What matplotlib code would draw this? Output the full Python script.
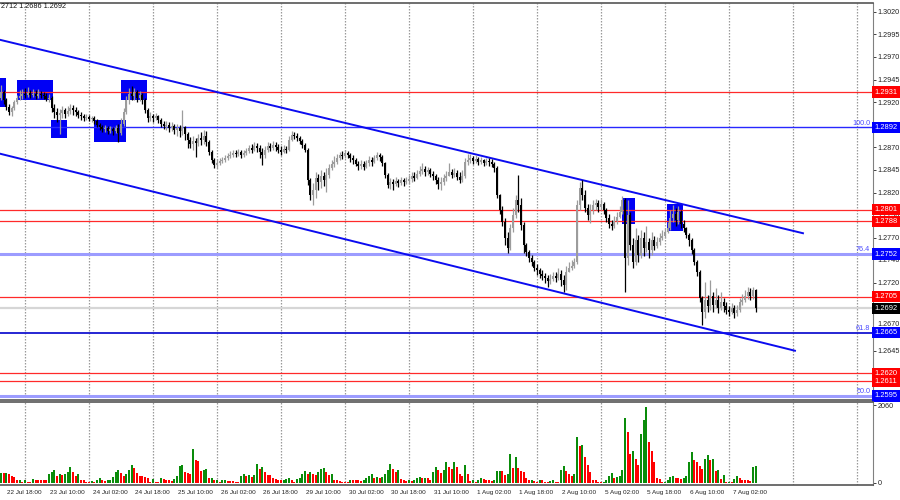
import numpy as np
import matplotlib
matplotlib.use("Agg")
import matplotlib.pyplot as plt
import matplotlib.transforms as mtransforms
from matplotlib.patches import Rectangle

plt.rcParams['font.family'] = ['Liberation Sans', 'DejaVu Sans']

# H1 bars, prices in points (1/10000), bar 0 = 22 Jul 16:00
first_open = 12925
close = [
    12931, 12922, 12915, 12909, 12914, 12920, 12925, 12927, 12929, 12928,
    12930, 12928, 12929, 12927, 12929, 12928, 12927, 12923, 12925, 12914,
    12909, 12906, 12908, 12911, 12907, 12910, 12914, 12911, 12909, 12906,
    12905, 12902, 12904, 12901, 12902, 12899, 12895, 12892, 12890, 12891,
    12888, 12890, 12888, 12891, 12886, 12896, 12909, 12922, 12929, 12927,
    12931, 12925, 12928, 12922, 12911, 12902, 12905, 12902, 12905, 12900,
    12896, 12894, 12895, 12891, 12894, 12889, 12891, 12888, 12892, 12885,
    12878, 12874, 12877, 12875, 12880, 12878, 12883, 12876, 12865, 12856,
    12850, 12853, 12855, 12856, 12858, 12860, 12862, 12864, 12863, 12865,
    12862, 12864, 12866, 12869, 12867, 12871, 12869, 12865, 12862, 12867,
    12871, 12869, 12873, 12870, 12867, 12865, 12868, 12867, 12878, 12884,
    12883, 12880, 12877, 12873, 12867, 12834, 12817, 12823, 12836, 12832,
    12838, 12834, 12839, 12847, 12852, 12854, 12858, 12862, 12860, 12864,
    12862, 12858, 12856, 12852, 12849, 12852, 12848, 12853, 12856, 12854,
    12858, 12862, 12859, 12853, 12839, 12828, 12832, 12829, 12833, 12831,
    12834, 12832, 12833, 12835, 12838, 12836, 12840, 12844, 12846, 12843,
    12845, 12840, 12838, 12834, 12829, 12832, 12836, 12838, 12843, 12839,
    12842, 12837, 12834, 12838, 12854, 12856, 12858, 12855, 12857, 12854,
    12856, 12853, 12855, 12854, 12852, 12847, 12817, 12801, 12787, 12770,
    12759, 12781, 12795, 12812, 12806, 12784, 12762, 12754, 12748, 12743,
    12737, 12734, 12730, 12728, 12725, 12722, 12724, 12728, 12725, 12730,
    12723, 12718, 12732, 12737, 12739, 12743, 12806, 12825, 12817, 12803,
    12795, 12801, 12806, 12808, 12804, 12807, 12801, 12792, 12785, 12783,
    12788, 12793, 12798, 12812, 12748, 12795, 12762, 12743, 12767, 12751,
    12770, 12759, 12765, 12756, 12767, 12761, 12765, 12770, 12772, 12776,
    12781, 12792, 12796, 12790, 12798, 12785, 12781, 12773, 12767, 12756,
    12743, 12732, 12703, 12688, 12701, 12694, 12706, 12696, 12701, 12692,
    12699, 12694, 12690, 12688, 12692, 12687, 12690, 12699, 12701, 12706,
    12710, 12706, 12712, 12692]
high = [
    12939, 12933, 12925, 12918, 12916, 12922, 12928, 12933, 12935, 12936,
    12937, 12933, 12935, 12933, 12935, 12932, 12931, 12930, 12929, 12927,
    12918, 12914, 12912, 12916, 12914, 12916, 12918, 12917, 12915, 12911,
    12909, 12907, 12907, 12906, 12905, 12905, 12901, 12897, 12895, 12895,
    12894, 12894, 12892, 12895, 12896, 12902, 12914, 12927, 12936, 12938,
    12936, 12933, 12932, 12930, 12925, 12914, 12909, 12907, 12908, 12906,
    12902, 12899, 12899, 12898, 12898, 12896, 12896, 12895, 12911, 12894,
    12887, 12881, 12883, 12880, 12885, 12887, 12889, 12888, 12878, 12867,
    12858, 12857, 12858, 12859, 12862, 12864, 12866, 12867, 12867, 12868,
    12867, 12867, 12869, 12873, 12874, 12876, 12875, 12873, 12869, 12871,
    12876, 12875, 12877, 12876, 12874, 12871, 12873, 12871, 12883, 12888,
    12887, 12886, 12883, 12879, 12875, 12869, 12836, 12831, 12843, 12840,
    12845, 12843, 12847, 12852, 12856, 12860, 12863, 12865, 12866, 12867,
    12866, 12864, 12862, 12858, 12855, 12856, 12855, 12856, 12860, 12859,
    12862, 12865, 12864, 12862, 12854, 12842, 12836, 12835, 12837, 12835,
    12837, 12836, 12837, 12839, 12843, 12843, 12845, 12849, 12853, 12849,
    12848, 12847, 12844, 12840, 12837, 12837, 12840, 12844, 12853, 12846,
    12847, 12845, 12843, 12845, 12858, 12863, 12863, 12860, 12862, 12859,
    12859, 12857, 12858, 12858, 12857, 12854, 12849, 12818, 12805, 12792,
    12776, 12785, 12803, 12817, 12839, 12814, 12787, 12764, 12756, 12751,
    12745, 12741, 12737, 12734, 12731, 12729, 12730, 12732, 12732, 12737,
    12734, 12729, 12739, 12743, 12745, 12748, 12812, 12832, 12834, 12823,
    12807, 12807, 12812, 12813, 12812, 12813, 12810, 12803, 12796, 12790,
    12794, 12798, 12805, 12816, 12814, 12812, 12798, 12770, 12781, 12773,
    12779, 12776, 12783, 12770, 12776, 12772, 12771, 12775, 12779, 12781,
    12787, 12801, 12806, 12803, 12805, 12801, 12790, 12782, 12775, 12770,
    12759, 12745, 12734, 12706, 12721, 12707, 12723, 12710, 12714, 12707,
    12710, 12703, 12699, 12694, 12698, 12696, 12696, 12703, 12708, 12712,
    12715, 12714, 12716, 12713]
low = [
    12922, 12918, 12911, 12906, 12905, 12911, 12918, 12922, 12923, 12925,
    12926, 12925, 12926, 12923, 12925, 12925, 12923, 12921, 12920, 12909,
    12902, 12898, 12885, 12902, 12902, 12905, 12907, 12906, 12905, 12902,
    12900, 12899, 12900, 12899, 12898, 12896, 12892, 12889, 12887, 12887,
    12885, 12886, 12884, 12886, 12876, 12884, 12894, 12907, 12918, 12922,
    12922, 12920, 12921, 12918, 12908, 12898, 12899, 12898, 12900, 12897,
    12892, 12890, 12889, 12887, 12888, 12885, 12883, 12881, 12884, 12878,
    12869, 12869, 12867, 12859, 12871, 12873, 12874, 12871, 12862, 12853,
    12847, 12847, 12850, 12853, 12854, 12856, 12858, 12859, 12859, 12860,
    12858, 12859, 12862, 12864, 12864, 12866, 12865, 12858, 12850, 12858,
    12865, 12866, 12867, 12866, 12864, 12862, 12864, 12864, 12866, 12877,
    12879, 12877, 12874, 12869, 12865, 12828, 12812, 12806, 12814, 12823,
    12825, 12827, 12821, 12836, 12845, 12848, 12852, 12856, 12857, 12858,
    12858, 12854, 12852, 12849, 12845, 12846, 12845, 12847, 12849, 12849,
    12853, 12856, 12855, 12849, 12836, 12825, 12824, 12823, 12827, 12826,
    12828, 12827, 12829, 12829, 12832, 12833, 12835, 12838, 12840, 12838,
    12839, 12837, 12834, 12829, 12824, 12823, 12828, 12833, 12838, 12836,
    12837, 12834, 12831, 12832, 12836, 12850, 12853, 12852, 12853, 12850,
    12852, 12849, 12850, 12849, 12848, 12843, 12814, 12796, 12783, 12762,
    12753, 12756, 12776, 12792, 12798, 12779, 12753, 12750, 12743, 12739,
    12733, 12729, 12725, 12723, 12720, 12715, 12719, 12722, 12721, 12723,
    12717, 12710, 12712, 12732, 12734, 12737, 12741, 12801, 12812, 12798,
    12790, 12786, 12796, 12801, 12798, 12801, 12796, 12787, 12781, 12779,
    12781, 12785, 12792, 12796, 12710, 12740, 12756, 12737, 12740, 12743,
    12748, 12750, 12754, 12748, 12751, 12756, 12759, 12762, 12767, 12770,
    12775, 12779, 12787, 12783, 12785, 12781, 12776, 12770, 12761, 12752,
    12740, 12728, 12699, 12673, 12681, 12688, 12690, 12688, 12692, 12687,
    12690, 12688, 12686, 12683, 12686, 12681, 12683, 12688, 12696, 12699,
    12702, 12701, 12702, 12688]
volume = [
    252, 243, 252, 234, 180, 144, 54, 63, 18, 54,
    27, 18, 90, 72, 72, 72, 63, 63, 225, 270,
    342, 180, 216, 207, 216, 288, 405, 270, 162, 216,
    72, 54, 27, 18, 36, 18, 72, 108, 54, 45,
    54, 72, 144, 288, 342, 252, 162, 216, 342, 468,
    378, 252, 180, 162, 144, 108, 27, 90, 27, 18,
    126, 90, 72, 54, 45, 90, 162, 432, 468, 270,
    252, 225, 882, 594, 576, 306, 333, 351, 108, 117,
    54, 72, 18, 54, 72, 36, 36, 36, 27, 27,
    162, 234, 180, 198, 144, 198, 504, 360, 414, 270,
    198, 189, 108, 99, 72, 63, 72, 90, 108, 54,
    18, 90, 126, 234, 306, 216, 270, 216, 198, 270,
    360, 396, 270, 198, 234, 72, 63, 36, 18, 9,
    9, 72, 72, 54, 54, 45, 72, 126, 180, 234,
    126, 144, 126, 144, 234, 342, 504, 360, 270, 324,
    90, 72, 36, 72, 36, 72, 108, 144, 108, 117,
    108, 72, 270, 414, 342, 252, 324, 540, 405, 360,
    558, 414, 234, 180, 468, 216, 36, 54, 18, 72,
    108, 90, 72, 54, 36, 54, 306, 315, 306, 198,
    234, 756, 396, 666, 378, 306, 270, 126, 54, 72,
    36, 9, 54, 54, 18, 9, 45, 54, 9, 9,
    324, 450, 306, 216, 180, 234, 1206, 981, 999, 666,
    477, 288, 72, 54, 9, 9, 27, 54, 180, 252,
    108, 144, 180, 324, 1719, 1332, 756, 828, 612, 468,
    1278, 1656, 2016, 1080, 846, 540, 126, 81, 18, 27,
    54, 144, 180, 126, 126, 90, 117, 162, 540, 810,
    594, 549, 450, 360, 630, 738, 594, 630, 306, 324,
    81, 198, 9, 27, 9, 90, 162, 108, 54, 54,
    54, 45, 414, 450]

date_labels = ["22 Jul 18:00", "23 Jul 10:00", "24 Jul 02:00", "24 Jul 18:00",
               "25 Jul 10:00", "26 Jul 02:00", "26 Jul 18:00", "29 Jul 10:00",
               "30 Jul 02:00", "30 Jul 18:00", "31 Jul 10:00", "1 Aug 02:00",
               "1 Aug 18:00", "2 Aug 10:00", "5 Aug 02:00", "5 Aug 18:00",
               "6 Aug 10:00", "7 Aug 02:00"]

# right scale labels that MT4 shows (the hidden ones sit under price boxes)
scale_ticks = [1.3020, 1.2995, 1.2970, 1.2945, 1.2920, 1.2870, 1.2845, 1.2820,
               1.2796, 1.2770, 1.2746, 1.2720, 1.2645]
peek_tick = 1.2670   # half covered by the 61.8 box, only its top shows

red_levels = [1.2931, 1.2801, 1.2788, 1.2705, 1.2620, 1.2611]
fib_levels = [1.2892, 1.2752, 1.2665, 1.2595]
fib_names = ["100.0", "76.4", "61.8", "50.0"]
bid = 1.2692
vol_max_label = 2060

# drawn channel (bar index, price)
up_chan_x = [-0.4, 300.7]
up_chan_y = [1.2989, 1.2775]
lo_chan_x = [-0.4, 297.7]
lo_chan_y = [1.2863, 1.2645]

# blue zones: start bar, end bar, top, bottom
zone_x0 = [-0.4, 5.9, 18.7, 34.9, 44.9, 232.7, 249.8]
zone_x1 = [1.8, 19.6, 24.9, 46.9, 54.6, 237.7, 255.8]
zone_top = [1.2947, 1.2945, 1.2900, 1.2900, 1.2945, 1.2814, 1.2807]
zone_bot = [1.2915, 1.2922, 1.2880, 1.2876, 1.2922, 1.2785, 1.2777]

c = np.array(close) / 1e4
h = np.array(high) / 1e4
l = np.array(low) / 1e4
o = np.r_[first_open, close[:-1]] / 1e4
h = np.maximum(h, np.maximum(o, c))
l = np.minimum(l, np.minimum(o, c))
idx = np.arange(len(c))
v = np.array(volume)

fig = plt.figure(figsize=(9, 5), dpi=100)
fig.patch.set_facecolor("white")
ax = fig.add_axes([0, 100 / 500, 873 / 900, 397 / 500])
axv = fig.add_axes([0, 15 / 500, 873 / 900, 83 / 500])

xmin, xmax = -0.375, 326.96
ax.set_xlim(xmin, xmax)
ax.set_ylim(1.25905, 1.30297)
axv.set_xlim(xmin, xmax)
axv.set_ylim(-66, 2140)

grid_bars = np.arange(9, 330, 24)
for a in (ax, axv):
    for b in grid_bars:
        a.axvline(b, color="#9a9a9a", lw=0.9, ls=(0, (1.2, 1.2)), zorder=1)
    a.set_xticks([])
    a.spines["left"].set_visible(False)
    for s in ("top", "bottom"):
        a.spines[s].set_color("#555555")
        a.spines[s].set_linewidth(1.2)
    a.spines["right"].set_color("#808080")
    a.yaxis.tick_right()
    a.tick_params(axis="y", labelsize=5.2, length=2, width=0.6, pad=1.5,
                  colors="#222222")

# zones
for x0, x1, t, b in zip(zone_x0, zone_x1, zone_top, zone_bot):
    ax.add_patch(Rectangle((x0, b), x1 - x0, t - b, facecolor="#0000f5",
                           edgecolor="none", zorder=1.5))

# horizontal levels
trans = mtransforms.blended_transform_factory(ax.transAxes, ax.transData)
for p in red_levels:
    ax.axhline(p, color="#ff2a2a", lw=0.9, zorder=2)
fib_colors = ["#2828ff", "#9c9cff", "#1515d0", "#9c9cff"]
fib_widths = [1.0, 2.2, 1.3, 2.2]
for p, n, col, w in zip(fib_levels, fib_names, fib_colors, fib_widths):
    ax.axhline(p, color=col, lw=w, zorder=2)
    ax.text(0.997, p + 0.00006, n, transform=trans, ha="right", va="bottom",
            fontsize=5.2, color="#4a4aff", zorder=3)
ax.axhline(bid, color="#d6d6d6", lw=1.6, zorder=1.8)

# channel
ax.plot(up_chan_x, up_chan_y, color="#0b0bf0", lw=1.4, zorder=2.2)
ax.plot(lo_chan_x, lo_chan_y, color="#0b0bf0", lw=1.4, zorder=2.2)

# candles
bull = c > o
cols = np.where(bull, "#9c9c9c", "#000000")
ax.vlines(idx, l, h, colors=cols, lw=0.9, zorder=3)
body = np.maximum(np.abs(c - o), 0.00008)
ax.bar(idx, body, bottom=np.minimum(o, c), width=0.8, color=cols,
       linewidth=0, zorder=3.5)

# right price scale
ax.set_yticks(scale_ticks + [peek_tick])
ax.set_yticklabels([f"{t:.4f}" for t in scale_ticks] + [""])
ax.text(1.0046, peek_tick + 0.00042, f"{peek_tick:.4f}", transform=trans,
        ha="left", va="center", fontsize=5.2, color="#222222", clip_on=False)

def price_box(p, fc):
    ax.text(1.0018, p, f"{p:.4f}", transform=trans, ha="left", va="center",
            fontsize=5.4, color="white", clip_on=False, zorder=6,
            bbox=dict(boxstyle="square,pad=0.3", fc=fc, ec="none"))

for p in red_levels:
    price_box(p, "#ff0000")
for p in fib_levels:
    price_box(p, "#0000ff")
price_box(bid, "#000000")

# volumes
vcol = ["#0a8c0a"] + ["#0a8c0a" if v[i] > v[i - 1] else "#ff0000"
                      for i in range(1, len(v))]
axv.bar(idx, v, width=0.75, color=vcol, linewidth=0, zorder=3)
axv.set_yticks([0, vol_max_label])
axv.set_yticklabels(["0", str(vol_max_label)])

# time labels
tx = mtransforms.blended_transform_factory(axv.transData, axv.transAxes)
for k, s in enumerate(date_labels):
    axv.text(2 + 16 * k + 0.4, -0.085, s, transform=tx, ha="left",
             va="center", fontsize=4.6, color="#222222", clip_on=False)

fig.text(0.001, 1 - 7 / 500, "2712 1.2686 1.2692", fontsize=5.2,
         color="#111111", va="center", ha="left")

fig.savefig("out.png", dpi=100, facecolor="white")
